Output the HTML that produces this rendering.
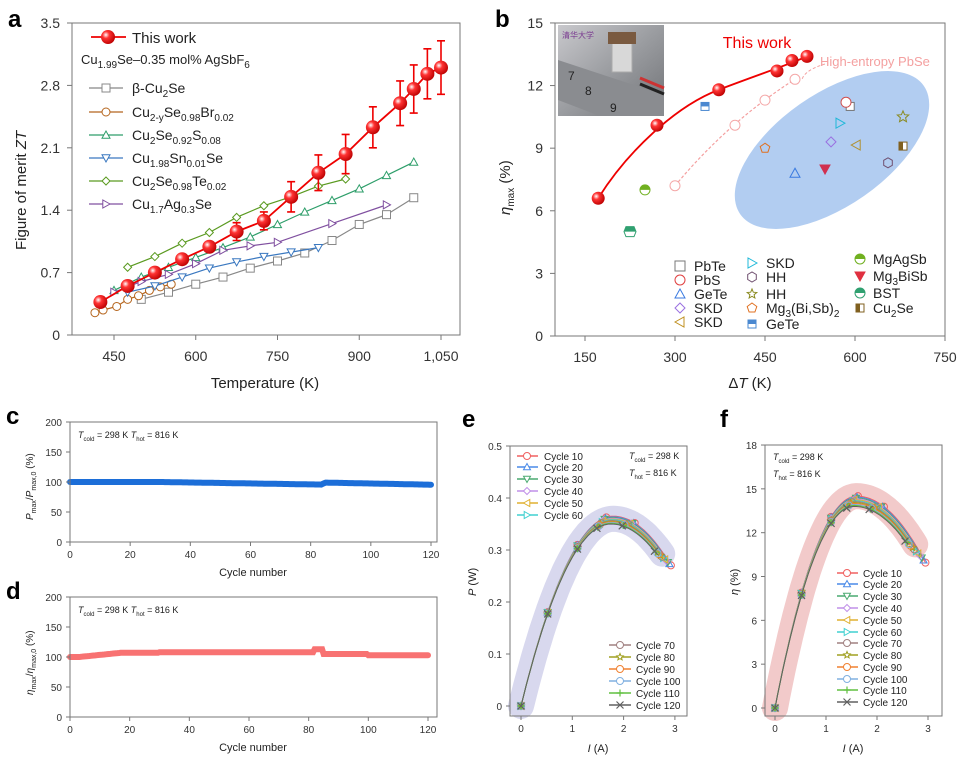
<!DOCTYPE html>
<html><head><meta charset="utf-8">
<style>
html,body{margin:0;padding:0;background:#fff;}
svg{display:block;font-family:"Liberation Sans","DejaVu Sans",sans-serif;}
</style></head>
<body>
<svg id="s" width="962" height="761" viewBox="0 0 962 761" xmlns="http://www.w3.org/2000/svg"></svg>
<script>
const S=document.getElementById('s');let h='';
function t(x,y,s,sz,o){o=o||{};h+=`<text x="${x}" y="${y}" font-size="${sz}" fill="${o.c||'#222'}" text-anchor="${o.a||'start'}" ${o.w?'font-weight="bold"':''} ${o.r?`transform="rotate(-90 ${x} ${y})"`:''}>${s}</text>`;}
function box(x1,y1,x2,y2){h+=`<rect x="${x1}" y="${y1}" width="${x2-x1}" height="${y2-y1}" fill="none" stroke="#777" stroke-width="1"/>`;}
function mk(type,x,y,r,col,fill){fill=fill||'#fff';const st=`stroke="${col}" stroke-width="1" fill="${fill}"`;
 if(type=='sq')h+=`<rect x="${x-r}" y="${y-r}" width="${2*r}" height="${2*r}" ${st}/>`;
 else if(type=='ci')h+=`<circle cx="${x}" cy="${y}" r="${r}" ${st}/>`;
 else if(type=='tu')h+=`<polygon points="${x},${y-r} ${x-r},${y+r*0.8} ${x+r},${y+r*0.8}" ${st}/>`;
 else if(type=='td')h+=`<polygon points="${x},${y+r} ${x-r},${y-r*0.8} ${x+r},${y-r*0.8}" ${st}/>`;
 else if(type=='tr')h+=`<polygon points="${x+r},${y} ${x-r*0.8},${y-r} ${x-r*0.8},${y+r}" ${st}/>`;
 else if(type=='tl')h+=`<polygon points="${x-r},${y} ${x+r*0.8},${y-r} ${x+r*0.8},${y+r}" ${st}/>`;
 else if(type=='di')h+=`<polygon points="${x},${y-r} ${x+r},${y} ${x},${y+r} ${x-r},${y}" ${st}/>`;
 else if(type=='hx'){let p=[];for(let i=0;i<6;i++){let a=Math.PI/3*i+Math.PI/6;p.push((x+r*Math.cos(a)).toFixed(1)+','+(y+r*Math.sin(a)).toFixed(1));}h+=`<polygon points="${p.join(' ')}" ${st}/>`;}
 else if(type=='pe'){let p=[];for(let i=0;i<5;i++){let a=-Math.PI/2+2*Math.PI/5*i;p.push((x+r*Math.cos(a)).toFixed(1)+','+(y+r*Math.sin(a)).toFixed(1));}h+=`<polygon points="${p.join(' ')}" ${st}/>`;}
 else if(type=='st'){let p=[];for(let i=0;i<10;i++){let a=-Math.PI/2+Math.PI/5*i,rr=i%2?r*0.45:r;p.push((x+rr*Math.cos(a)).toFixed(1)+','+(y+rr*Math.sin(a)).toFixed(1));}h+=`<polygon points="${p.join(' ')}" ${st}/>`;}
 else if(type=='pl')h+=`<path d="M${x-r} ${y}H${x+r}M${x} ${y-r}V${y+r}" stroke="${col}" stroke-width="1.2"/>`;
 else if(type=='xx')h+=`<path d="M${x-r} ${y-r}L${x+r} ${y+r}M${x-r} ${y+r}L${x+r} ${y-r}" stroke="${col}" stroke-width="1.2"/>`;
}
function pl(pts,col,w,extra){h+=`<polyline points="${pts.map(p=>p[0].toFixed(1)+','+p[1].toFixed(1)).join(' ')}" fill="none" stroke="${col}" stroke-width="${w}" ${extra||''}/>`;}
// ===== Panel a =====
t(8,27,'a',24,{w:1,c:'#000'});
box(72,23,460,335);
const ax=T=>114+(T-450)*0.545, ay=v=>335-v*89.14;
[[0,'0'],[0.7,'0.7'],[1.4,'1.4'],[2.1,'2.1'],[2.8,'2.8'],[3.5,'3.5']].forEach(([v,l])=>{h+=`<line x1="67" x2="72" y1="${ay(v)}" y2="${ay(v)}" stroke="#777"/>`;t(60,ay(v)+5,l,14,{a:'end',c:'#333'});});
[[450,'450'],[600,'600'],[750,'750'],[900,'900'],[1050,'1,050']].forEach(([v,l])=>{h+=`<line x1="${ax(v)}" x2="${ax(v)}" y1="335" y2="340" stroke="#777"/>`;t(ax(v),361,l,14,{a:'middle',c:'#333'});});
t(265,388,'Temperature (K)',15,{a:'middle'});
t(26,250,'Figure of merit <tspan font-style="italic">ZT</tspan>',15,{r:1});
const A=[
['sq','#888',[500,550,600,650,700,750,800,850,900,950,1000],[0.40,0.48,0.57,0.65,0.75,0.83,0.92,1.06,1.24,1.35,1.54]],
['ci','#b5651d',[415,430,455,475,495,515,535,555],[0.25,0.28,0.32,0.40,0.44,0.50,0.54,0.57]],
['tu','#2e9e6a',[450,500,550,600,650,700,750,800,850,900,950,1000],[0.50,0.65,0.76,0.87,0.98,1.10,1.24,1.38,1.51,1.64,1.79,1.94]],
['td','#3a78c0',[475,525,575,625,675,725,775,825],[0.48,0.55,0.65,0.75,0.82,0.88,0.93,0.98]],
['di','#5a9a20',[475,525,575,625,675,725,775,825,875],[0.76,0.88,1.03,1.15,1.32,1.45,1.55,1.67,1.75]],
['tr','#8050a0',[450,500,550,600,650,700,750,850,950],[0.48,0.60,0.68,0.80,0.95,1.00,1.04,1.25,1.46]]];
A.forEach(([m,c,X,Y])=>{pl(X.map((x,i)=>[ax(x),ay(Y[i])]),c,1.2);X.forEach((x,i)=>mk(m,ax(x),ay(Y[i]),4,c));});
const RX=[425,475,525,575,625,675,725,775,825,875,925,975,1000,1025,1050],RY=[0.37,0.55,0.70,0.85,0.99,1.16,1.28,1.55,1.82,2.03,2.33,2.60,2.76,2.93,3.00],RE=[0,0,0,0,0,0.1,0.1,0.17,0.2,0.22,0.23,0.25,0.27,0.28,0.3];
h+=`<defs><radialGradient id="rg" cx="0.35" cy="0.35" r="0.7"><stop offset="0" stop-color="#fff"/><stop offset="0.35" stop-color="#f33"/><stop offset="1" stop-color="#b00"/></radialGradient></defs>`;
pl(RX.map((x,i)=>[ax(x),ay(RY[i])]),'#e00',1.8);
RX.forEach((x,i)=>{if(RE[i]){const X=ax(x),y1=ay(RY[i]+RE[i]),y2=ay(RY[i]-RE[i]);h+=`<path d="M${X} ${y1}V${y2}M${X-4} ${y1}H${X+4}M${X-4} ${y2}H${X+4}" stroke="#e00" stroke-width="1.6"/>`;}});
RX.forEach((x,i)=>h+=`<circle cx="${ax(x)}" cy="${ay(RY[i])}" r="7" fill="url(#rg)"/>`);
h+=`<line x1="91" x2="126" y1="37" y2="37" stroke="#e00" stroke-width="1.8"/><circle cx="108" cy="37" r="7" fill="url(#rg)"/>`;
t(132,43,'This work',15);
t(81,64,'Cu<tspan font-size="10" dy="4">1.99</tspan><tspan dy="-4">Se–0.35 mol% AgSbF</tspan><tspan font-size="10" dy="4">6</tspan>',13);
const AL=['β-Cu<tspan font-size="10" dy="4">2</tspan><tspan dy="-4">Se</tspan>',
'Cu<tspan font-size="10" dy="4">2-y</tspan><tspan dy="-4">Se</tspan><tspan font-size="10" dy="4">0.98</tspan><tspan dy="-4">Br</tspan><tspan font-size="10" dy="4">0.02</tspan>',
'Cu<tspan font-size="10" dy="4">2</tspan><tspan dy="-4">Se</tspan><tspan font-size="10" dy="4">0.92</tspan><tspan dy="-4">S</tspan><tspan font-size="10" dy="4">0.08</tspan>',
'Cu<tspan font-size="10" dy="4">1.98</tspan><tspan dy="-4">Sn</tspan><tspan font-size="10" dy="4">0.01</tspan><tspan dy="-4">Se</tspan>',
'Cu<tspan font-size="10" dy="4">2</tspan><tspan dy="-4">Se</tspan><tspan font-size="10" dy="4">0.98</tspan><tspan dy="-4">Te</tspan><tspan font-size="10" dy="4">0.02</tspan>',
'Cu<tspan font-size="10" dy="4">1.7</tspan><tspan dy="-4">Ag</tspan><tspan font-size="10" dy="4">0.3</tspan><tspan dy="-4">Se</tspan>'];
[88,112,135,158,181,204].forEach((y,i)=>{h+=`<line x1="89" x2="123" y1="${y}" y2="${y}" stroke="${A[i][1]}" stroke-width="1.2"/>`;mk(A[i][0],106,y,4,A[i][1]);t(132,y+5,AL[i],14);});
// ===== Panel b =====
t(495,27,'b',24,{w:1,c:'#000'});
const bx=d=>585+(d-150)*0.6, by=v=>336-v*20.87;
h+=`<ellipse cx="832" cy="150" rx="112" ry="56" transform="rotate(-35 832 150)" fill="#aac8f0" opacity="0.9"/>`;
box(555,23,945,336);
[0,3,6,9,12,15].forEach(v=>{h+=`<line x1="550" x2="555" y1="${by(v)}" y2="${by(v)}" stroke="#777"/>`;t(543,by(v)+5,v,14,{a:'end',c:'#333'});});
[150,300,450,600,750].forEach(v=>{h+=`<line x1="${bx(v)}" x2="${bx(v)}" y1="336" y2="341" stroke="#777"/>`;t(bx(v),362,v,14,{a:'middle',c:'#333'});});
t(750,388,'Δ<tspan font-style="italic">T</tspan> (K)',15,{a:'middle'});
t(510,215,'<tspan font-style="italic">η</tspan><tspan font-size="10" dy="4">max</tspan><tspan dy="-4"> (%)</tspan>',15,{r:1});
// inset photo
h+=`<defs><linearGradient id="ph" x1="0" y1="0" x2="1" y2="1"><stop offset="0" stop-color="#c8c8cc"/><stop offset="0.5" stop-color="#9a9ca0"/><stop offset="1" stop-color="#707276"/></linearGradient></defs>`;
h+=`<rect x="558" y="25" width="106" height="91" fill="url(#ph)"/><polygon points="558,60 664,95 664,116 600,116 558,100" fill="#8a8c90"/>`;
h+=`<rect x="612" y="42" width="20" height="30" fill="#d8d8d8" stroke="#aaa"/><rect x="608" y="32" width="28" height="12" fill="#7a5a40"/>`;
t(562,38,'清华大学',8,{c:'#7a3a90'});t(568,80,'7',12,{c:'#222'});t(585,95,'8',12,{c:'#222'});t(610,112,'9',12,{c:'#222'});
h+=`<path d="M640 78 L664 88" stroke="#c33" stroke-width="3"/><path d="M640 84 L664 94" stroke="#222" stroke-width="3"/>`;
// pink dashed
const PX=[300,400,450,500],PY=[7.2,10.1,11.3,12.3];
h+=`<path d="M${bx(300)} ${by(7.2)} Q${bx(390)} ${by(10.3)} ${bx(500)} ${by(12.3)}" fill="none" stroke="#f4a0a0" stroke-width="1.2" stroke-dasharray="3,2"/>`;
PX.forEach((x,i)=>mk('ci',bx(x),by(PY[i]),5,'#f4a8a8'));
h+=`<path d="M825 64 Q805 70 ${bx(500)+7} ${by(12.3)}" fill="none" stroke="#f4a0a0" stroke-width="1" stroke-dasharray="3,2"/>`;
t(820,66,'High-entropy PbSe',13,{c:'#f4a0a0'});
t(757,48,'This work',16,{c:'#e00',a:'middle'});
// red curve
const BX=[172,270,373,470,495,520],BY=[6.6,10.1,11.8,12.7,13.2,13.4];
h+=`<path d="M${bx(172)} ${by(6.6)} C${bx(220)} ${by(8.8)} ${bx(300)} ${by(11)} ${bx(373)} ${by(11.8)} S${bx(490)} ${by(13)} ${bx(520)} ${by(13.4)}" fill="none" stroke="#e00" stroke-width="1.8"/>`;
BX.forEach((x,i)=>h+=`<circle cx="${bx(x)}" cy="${by(BY[i])}" r="6.5" fill="url(#rg)"/>`);
// scatter
mk('sq',bx(592),by(11),4,'#777');mk('ci',bx(585),by(11.2),5,'#d05050');
mk('tu',bx(500),by(7.8),5,'#3a7ae0','none');mk('di',bx(560),by(9.3),5,'#9a70e0','none');
mk('tl',bx(602),by(9.15),5,'#b09030','none');mk('tr',bx(575),by(10.2),5,'#20b8d8','none');
mk('hx',bx(655),by(8.3),5,'#705070','none');mk('st',bx(680),by(10.5),6,'#8a8a20','none');
mk('pe',bx(450),by(9),5,'#e07020','none');mk('td',bx(550),by(8),5,'#d03050','#d03050');
function half(x,y,r,col,sq){if(sq){h+=`<rect x="${x-r}" y="${y-r}" width="${2*r}" height="${2*r}" fill="#fff" stroke="${col}"/><rect x="${x-r}" y="${y-r}" width="${2*r}" height="${r}" fill="${col}"/>`;}else{h+=`<circle cx="${x}" cy="${y}" r="${r}" fill="#fff" stroke="${col}"/><path d="M${x-r} ${y}A${r} ${r} 0 0 1 ${x+r} ${y}Z" fill="${col}"/>`;}}
half(bx(350),by(11),4,'#4a88d0',1);half(bx(250),by(7),5,'#70b020');
h+=`<polygon points="${bx(225)-4},${by(5)-5} ${bx(225)+4},${by(5)-5} ${bx(225)+6},${by(5)} ${bx(225)+4},${by(5)+5} ${bx(225)-4},${by(5)+5} ${bx(225)-6},${by(5)}" fill="#fff" stroke="#30a070"/><path d="M${bx(225)-6} ${by(5)} L${bx(225)-4} ${by(5)-5} H${bx(225)+4} L${bx(225)+6} ${by(5)}Z" fill="#30a070"/>`;
h+=`<rect x="${bx(680)-4}" y="${by(9.1)-4}" width="8" height="8" fill="#fff" stroke="#806020"/><rect x="${bx(680)-4}" y="${by(9.1)-4}" width="4" height="8" fill="#806020"/>`;
// legend b
const L1=[['sq','#777','PbTe'],['ci','#e04040','PbS'],['tu','#3a7ae0','GeTe'],['di','#9a70e0','SKD'],['tl','#c09020','SKD']];
[266,280,294,308,322].forEach((y,i)=>{mk(L1[i][0],680,y,5,L1[i][1],'none');t(694,y+5,L1[i][2],14);});
const L2=[['tr','#20b8d8','SKD'],['hx','#705070','HH'],['st','#8a8a20','HH'],['pe','#e07020','Mg<tspan font-size="10" dy="4">3</tspan><tspan dy="-4">(Bi,Sb)</tspan><tspan font-size="10" dy="4">2</tspan>']];
[263,277,294,308].forEach((y,i)=>{mk(L2[i][0],752,y,5,L2[i][1],'none');t(766,y+5,L2[i][2],14);});
half(752,324,4,'#4a88d0',1);t(766,329,'GeTe',14);
half(860,259,5,'#70b020');t(873,264,'MgAgSb',14);
mk('td',860,276,5,'#e03040','#e03040');t(873,281,'Mg<tspan font-size="10" dy="4">3</tspan><tspan dy="-4">BiSb</tspan>',14);
half(860,293,5,'#30a070');t(873,298,'BST',14);
h+=`<rect x="856" y="304" width="8" height="8" fill="#fff" stroke="#806020"/><rect x="856" y="304" width="4" height="8" fill="#806020"/>`;t(873,313,'Cu<tspan font-size="10" dy="4">2</tspan><tspan dy="-4">Se</tspan>',14);
// ===== Panels c,d =====
function cyc(y0,y1,col,letter,lab,fn,xend){
 t(6,y0+2,letter,24,{w:1,c:'#000'});
 const cy=v=>y1-v*(y1-y0)/200, cx=c=>70+c*(xend-70)/120;
 // data band
 let pts=[];for(let c=0;c<=120;c+=0.5)pts.push([cx(c),cy(fn(c))]);
 pl(pts,col,6,'stroke-linecap="round"');
 box(70,y0,437,y1);
 [0,50,100,150,200].forEach(v=>{h+=`<line x1="66" x2="70" y1="${cy(v)}" y2="${cy(v)}" stroke="#777"/>`;t(62,cy(v)+4,v,10,{a:'end',c:'#333'});});
 [0,20,40,60,80,100,120].forEach(v=>{h+=`<line x1="${cx(v)}" x2="${cx(v)}" y1="${y1}" y2="${y1+4}" stroke="#777"/>`;t(cx(v),y1+16,v,10,{a:'middle',c:'#333'});});
 t(253,y1+34,'Cycle number',11,{a:'middle'});
 t(78,y0+16,'<tspan font-style="italic">T</tspan><tspan font-size="6" dy="3">cold</tspan><tspan dy="-3"> = 298 K  </tspan><tspan font-style="italic">T</tspan><tspan font-size="6" dy="3">hot</tspan><tspan dy="-3"> = 816 K</tspan>',9);
 t(33,(y0+y1)/2+38,lab,10,{r:1});
}
cyc(422,542,'#1c6ed8','c','<tspan font-style="italic">P</tspan><tspan font-size="7" dy="3">max</tspan><tspan dy="-3">/</tspan><tspan font-style="italic">P</tspan><tspan font-size="7" dy="3">max,0</tspan><tspan dy="-3"> (%)</tspan>',c=>c<30?100:(c<84?100-(c-30)*0.08:(c<85?97+(c-84)*2:99-(c-85)*0.1)),431);
cyc(597,717,'#f87272','d','<tspan font-style="italic">η</tspan><tspan font-size="7" dy="3">max</tspan><tspan dy="-3">/</tspan><tspan font-style="italic">η</tspan><tspan font-size="7" dy="3">max,0</tspan><tspan dy="-3"> (%)</tspan>',c=>c<3?100:(c<30?100+Math.min(7,(c-3)*0.5):(c<82?108:(c<85?113:(c<100?105:103)))),428);
// ===== Panels e,f =====
const CY=[['ci','#f06060'],['tu','#4a8ae8'],['td','#4aaa70'],['di','#c090e8'],['tl','#e0b030'],['tr','#40d0d0'],['ci','#a08080'],['st','#a0a020'],['ci','#f08030'],['ci','#80b0e0'],['pl','#60c040'],['xx','#606060']];
function curveSet(X0,X3,Y0,Ymax,y0px,pk,im,wR,endI0,endI1,pk0,pk1,bg,marks){
 const cx=i=>X0+i*(X3-X0)/3, cy=v=>Y0-v*(Y0-y0px)/Ymax;
 // background band
 let bp=[];for(let i=0;i<=2.75;i+=0.05){const w=i<im?im:wR;bp.push([cx(i),cy(pk*(1-((i-im)/w)**2))]);}
 pl(bp,bg,26,'stroke-linecap="round" stroke-linejoin="round"');
 for(let k=0;k<12;k++){const e=endI0-(endI0-endI1)*k/11, p=pk0-(pk0-pk1)*k/11, m=im-0.05*k/11;
  let pts=[];for(let i=0;i<=e+0.001;i+=0.05){const w=i<m?m:wR;pts.push([cx(i),cy(p*(1-((i-m)/w)**2))]);}
  pl(pts,CY[k][1],1);
  marks.forEach(mi=>{let i=mi*(mi>1.5?e/2.9:1);if(mi>2.5)i=e;const w=i<m?m:wR;mk(CY[k][0],cx(i),cy(p*(1-((i-m)/w)**2)),3.5,CY[k][1],'none');});
 }
}
// e
t(462,427,'e',24,{w:1,c:'#000'});
const ex=i=>521+i*51.3, ey=v=>706-v*520;
curveSet(521,675,706,0.5,446,0.36,1.8,2.2,2.92,2.6,0.365,0.35,'#d8d8ee',[0,0.52,1.1,1.65,2.2,2.9]);
box(510,446,687,716);
[0,0.1,0.2,0.3,0.4,0.5].forEach(v=>{h+=`<line x1="506" x2="510" y1="${ey(v)}" y2="${ey(v)}" stroke="#777"/>`;t(502,ey(v)+4,v,10,{a:'end',c:'#333'});});
[0,1,2,3].forEach(v=>{h+=`<line x1="${ex(v)}" x2="${ex(v)}" y1="716" y2="720" stroke="#777"/>`;t(ex(v),732,v,10,{a:'middle',c:'#333'});});
t(598,752,'<tspan font-style="italic">I</tspan> (A)',11,{a:'middle'});
t(476,596,'<tspan font-style="italic">P</tspan> (W)',11,{r:1});
t(629,459,'<tspan font-style="italic">T</tspan><tspan font-size="6" dy="3">cold</tspan><tspan dy="-3"> = 298 K</tspan>',9);
t(629,476,'<tspan font-style="italic">T</tspan><tspan font-size="6" dy="3">hot</tspan><tspan dy="-3"> = 816 K</tspan>',9);
[456,467,479,491,503,515].forEach((y,k)=>{h+=`<line x1="517" x2="538" y1="${y}" y2="${y}" stroke="${CY[k][1]}" stroke-width="1.5"/>`;mk(CY[k][0],527,y,3.5,CY[k][1]);t(544,y+4,'Cycle '+(10*(k+1)),10);});
[645,657,669,681,693,705].forEach((y,j)=>{const k=j+6;h+=`<line x1="609" x2="631" y1="${y}" y2="${y}" stroke="${CY[k][1]}" stroke-width="1.5"/>`;mk(CY[k][0],620,y,3.5,CY[k][1]);t(636,y+4,'Cycle '+(10*(k+1)),10);});
// f
t(720,427,'f',24,{w:1,c:'#000'});
const fx=i=>775+i*51, fy=v=>708-v*14.61;
curveSet(775,928,708,18,445,14.5,1.6,2.41,2.95,2.55,14.5,13.8,'#f2caca',[0,0.52,1.1,1.6,2.1,2.9]);
box(765,445,942,716);
[0,3,6,9,12,15,18].forEach(v=>{h+=`<line x1="761" x2="765" y1="${fy(v)}" y2="${fy(v)}" stroke="#777"/>`;t(757,fy(v)+4,v,10,{a:'end',c:'#333'});});
[0,1,2,3].forEach(v=>{h+=`<line x1="${fx(v)}" x2="${fx(v)}" y1="716" y2="720" stroke="#777"/>`;t(fx(v),732,v,10,{a:'middle',c:'#333'});});
t(853,752,'<tspan font-style="italic">I</tspan> (A)',11,{a:'middle'});
t(738,595,'<tspan font-style="italic">η</tspan> (%)',11,{r:1});
t(773,460,'<tspan font-style="italic">T</tspan><tspan font-size="6" dy="3">cold</tspan><tspan dy="-3"> = 298 K</tspan>',9);
t(773,477,'<tspan font-style="italic">T</tspan><tspan font-size="6" dy="3">hot</tspan><tspan dy="-3"> = 816 K</tspan>',9);
[573,584,596,608,620,632,643,655,667,679,690,702].forEach((y,k)=>{h+=`<line x1="837" x2="858" y1="${y}" y2="${y}" stroke="${CY[k][1]}" stroke-width="1.5"/>`;mk(CY[k][0],847,y,3.5,CY[k][1]);t(863,y+4,'Cycle '+(10*(k+1)),10);});
S.innerHTML=h;
</script>
</body></html>
